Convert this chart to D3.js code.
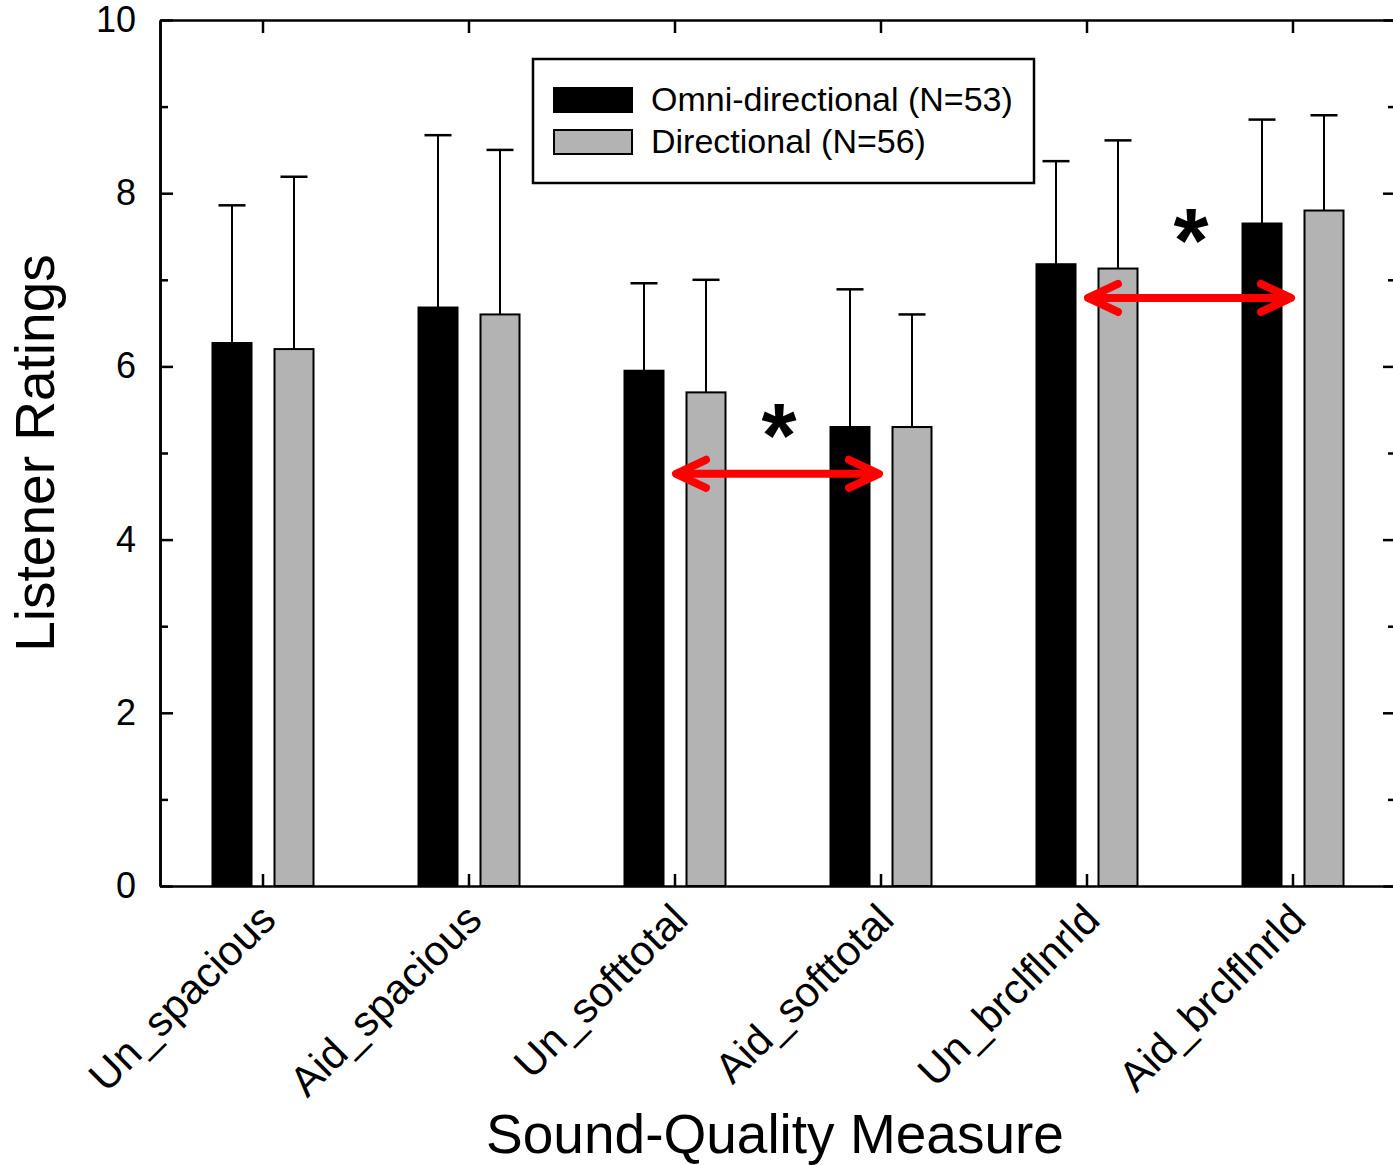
<!DOCTYPE html>
<html>
<head>
<meta charset="utf-8">
<script src="https://cdn.jsdelivr.net/npm/d3@7"></script>
<style>
  html, body { margin: 0; padding: 0; background: #fff; }
  svg { display: block; font-family: "Liberation Sans", Arial, sans-serif; }
</style>
</head>
<body>
<svg id="chart" width="1393" height="1165"></svg>
<script>
// ---------- data ----------
const categories = ["Un_spacious", "Aid_spacious", "Un_softtotal", "Aid_softtotal", "Un_brclflnrld", "Aid_brclflnrld"];
const seriesNames = ["Omni-directional (N=53)", "Directional (N=56)"];
const seriesColors = ["#000000", "#b3b3b3"];
const omniMeans = [6.27, 6.68, 5.95, 5.30, 7.18, 7.65];
const omniUpper = [7.86, 8.67, 6.96, 6.89, 8.37, 8.85];
const dirMeans  = [6.20, 6.60, 5.70, 5.30, 7.13, 7.80];
const dirUpper  = [8.19, 8.50, 7.00, 6.60, 8.61, 8.90];
const yMajorTicks = [0, 2, 4, 6, 8, 10];
const yMinorTicks = [1, 3, 5, 7, 9];
const comparisons = [
  { from: "Un_softtotal", to: "Aid_softtotal", arrowY: 4.76, starY: 5.48 },
  { from: "Un_brclflnrld", to: "Aid_brclflnrld", arrowY: 6.79, starY: 7.73 }
];
const xTitle = "Sound-Quality Measure";
const yTitle = "Listener Ratings";

(function () {
// ---------- layout ----------
const svg = d3.select("#chart");
const pL = 160, pR = 1396, pT = 20, pB = 886;

const x = d3.scaleBand().domain(categories).range([pL, pR]).padding(0);
const cx = c => x(c) + x.bandwidth() / 2;
const xSub = d3.scalePoint().domain([0, 1]).range([-31, 31]);
const barW = 39;
const y = d3.scaleLinear().domain([0, 10]).range([pB, pT]);

const series = [
  { name: seriesNames[0], color: seriesColors[0], means: omniMeans, upper: omniUpper },
  { name: seriesNames[1], color: seriesColors[1], means: dirMeans, upper: dirUpper }
];

svg.append("rect").attr("width", 1393).attr("height", 1165).attr("fill", "#fff");

// ---------- bars + error bars ----------
series.forEach((s, si) => {
  const g = svg.append("g");
  categories.forEach((c, i) => {
    const xc = cx(c) + xSub(si);
    g.append("line")
      .attr("x1", xc).attr("x2", xc)
      .attr("y1", y(s.means[i])).attr("y2", y(s.upper[i]))
      .attr("stroke", "#000").attr("stroke-width", 2);
    g.append("line")
      .attr("x1", xc - 13.5).attr("x2", xc + 13.5)
      .attr("y1", y(s.upper[i])).attr("y2", y(s.upper[i]))
      .attr("stroke", "#000").attr("stroke-width", 2.5);
    g.append("rect")
      .attr("x", xc - barW / 2).attr("width", barW)
      .attr("y", y(s.means[i])).attr("height", y(0) - y(s.means[i]))
      .attr("fill", s.color).attr("stroke", "#000").attr("stroke-width", 2);
  });
});

// ---------- axes ----------
const axisStyle = g => {
  g.selectAll(".domain").attr("stroke", "#000").attr("stroke-width", 2.5);
  g.selectAll(".tick line").attr("stroke", "#000").attr("stroke-width", 2.5);
};

svg.append("g").attr("transform", `translate(${pL},0)`)
  .call(d3.axisLeft(y).tickValues(yMajorTicks).tickSizeInner(-13).tickSizeOuter(0).tickPadding(24).tickFormat(d3.format("d")))
  .call(axisStyle)
  .call(g => g.selectAll("text").attr("font-size", 36).attr("fill", "#000").attr("font-family", "Liberation Sans, Arial, sans-serif"));
svg.append("g").attr("transform", `translate(${pL},0)`)
  .call(d3.axisLeft(y).tickValues(yMinorTicks).tickSizeInner(-8).tickSizeOuter(0).tickFormat(""))
  .call(axisStyle);
svg.append("g").attr("transform", `translate(${pR},0)`)
  .call(d3.axisRight(y).tickValues(yMajorTicks).tickSizeInner(-13).tickSizeOuter(0).tickFormat(""))
  .call(axisStyle);
svg.append("g").attr("transform", `translate(${pR},0)`)
  .call(d3.axisRight(y).tickValues(yMinorTicks).tickSizeInner(-8).tickSizeOuter(0).tickFormat(""))
  .call(axisStyle);
svg.append("g").attr("transform", `translate(0,${pT})`)
  .call(d3.axisTop(x).tickSizeInner(-13).tickSizeOuter(0).tickFormat(""))
  .call(axisStyle);
svg.append("g").attr("transform", `translate(0,${pB})`)
  .call(d3.axisBottom(x).tickSizeInner(-12).tickSizeOuter(0))
  .call(axisStyle)
  .call(g => g.selectAll("text")
    .attr("x", 0).attr("y", 0).attr("dy", 0)
    .attr("text-anchor", "end")
    .attr("font-size", 42)
    .attr("fill", "#000")
    .attr("font-family", "Liberation Sans, Arial, sans-serif")
    .attr("transform", "translate(15,36) rotate(-45)"));

// ---------- titles ----------
svg.append("text")
  .attr("x", 775).attr("y", 1153)
  .attr("text-anchor", "middle").attr("font-size", 55).attr("fill", "#000")
  .text(xTitle);
svg.append("text")
  .attr("transform", `translate(54,453) rotate(-90)`)
  .attr("text-anchor", "middle").attr("font-size", 55).attr("fill", "#000")
  .text(yTitle);

// ---------- comparison arrows ----------
const arrowColor = "#ff0000";
comparisons.forEach(cmp => {
  const x1 = cx(cmp.from) + 1, x2 = cx(cmp.to) - 2, ay = y(cmp.arrowY);
  const g = svg.append("g").attr("stroke", arrowColor).attr("stroke-width", 8)
    .attr("fill", "none").attr("stroke-linecap", "round").attr("stroke-linejoin", "round");
  g.append("line").attr("x1", x1 + 2).attr("x2", x2 - 2).attr("y1", ay).attr("y2", ay);
  g.append("path").attr("d", `M${x1 + 30},${ay - 14} L${x1},${ay} L${x1 + 30},${ay + 14}`);
  g.append("path").attr("d", `M${x2 - 30},${ay - 14} L${x2},${ay} L${x2 - 30},${ay + 14}`);
  svg.append("text")
    .attr("x", (cx(cmp.from) + cx(cmp.to)) / 2 + 1)
    .attr("y", y(cmp.starY))
    .attr("dy", "0.62em")
    .attr("text-anchor", "middle").attr("font-size", 90).attr("font-weight", "bold").attr("fill", "#000")
    .text("*");
});

// ---------- legend ----------
const lg = svg.append("g");
lg.append("rect").attr("x", 533).attr("y", 59).attr("width", 501).attr("height", 124)
  .attr("fill", "#fff").attr("stroke", "#000").attr("stroke-width", 2.5);
series.forEach((s, i) => {
  const yy = 88 + i * 42;
  lg.append("rect").attr("x", 554).attr("y", yy).attr("width", 78).attr("height", 24)
    .attr("fill", s.color).attr("stroke", "#000").attr("stroke-width", 2);
  lg.append("text").attr("x", 651).attr("y", yy + 23)
    .attr("font-size", 34).attr("fill", "#000").text(s.name);
});
})();
</script>
</body>
</html>
